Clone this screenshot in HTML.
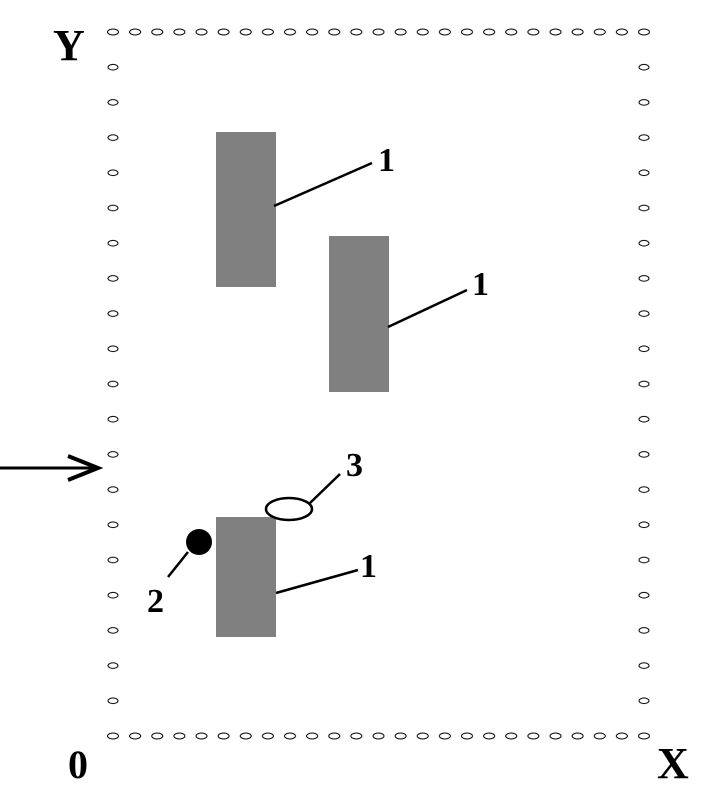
<!DOCTYPE html>
<html><head><style>html,body{margin:0;padding:0;background:#fff;width:708px;height:803px;overflow:hidden}</style></head>
<body>
<svg width="708" height="803" xmlns="http://www.w3.org/2000/svg" style="display:block">
<defs>
<pattern id="h" patternUnits="userSpaceOnUse" x="102" y="28" width="22.125" height="8">
<ellipse cx="11" cy="4" rx="5.5" ry="3" fill="none" stroke="#000" stroke-width="1"/>
</pattern>
<pattern id="v" patternUnits="userSpaceOnUse" x="100" y="14.4" width="26" height="35.2">
<ellipse cx="13" cy="17.6" rx="5" ry="2.8" fill="none" stroke="#000" stroke-width="1"/>
</pattern>
<pattern id="v2" patternUnits="userSpaceOnUse" x="631" y="14.4" width="26" height="35.2">
<ellipse cx="13" cy="17.6" rx="5" ry="2.8" fill="none" stroke="#000" stroke-width="1"/>
</pattern>
</defs>
<rect x="102" y="28" width="553.2" height="8" fill="url(#h)"/>
<rect x="102" y="732" width="553.2" height="8" fill="url(#h)"/>
<rect x="100" y="50" width="26" height="680" fill="url(#v)"/>
<rect x="631" y="50" width="26" height="680" fill="url(#v2)"/>

<rect x="216" y="132" width="60" height="155" fill="#808080"/>
<rect x="329" y="236" width="60" height="156" fill="#808080"/>
<rect x="216" y="517" width="60" height="120" fill="#808080"/>

<g stroke="#000" stroke-width="2.5" fill="none">
<line x1="274" y1="206" x2="372" y2="163"/>
<line x1="388" y1="327" x2="467" y2="290"/>
<line x1="276" y1="593" x2="358" y2="570"/>
<line x1="188" y1="552" x2="168" y2="577"/>
<line x1="310" y1="503" x2="340" y2="474"/>
<ellipse cx="289" cy="509" rx="23" ry="11"/>
<line x1="0" y1="468" x2="97" y2="468" stroke-width="3"/>
<polyline points="68,456 98,468 68,480" stroke-width="4"/>
</g>
<circle cx="199" cy="542" r="13" fill="#000"/>

<g font-family="Liberation Serif, serif" font-weight="bold" fill="#000">
<text x="378" y="171" font-size="34">1</text>
<text x="472" y="295" font-size="34">1</text>
<text x="360" y="577" font-size="34">1</text>
<text x="147" y="612" font-size="34">2</text>
<text x="346" y="476" font-size="34">3</text>
<text x="53" y="60" font-size="44">Y</text>
<text x="68" y="778" font-size="40">0</text>
<text x="657" y="778" font-size="44">X</text>
</g>
</svg>
</body></html>
